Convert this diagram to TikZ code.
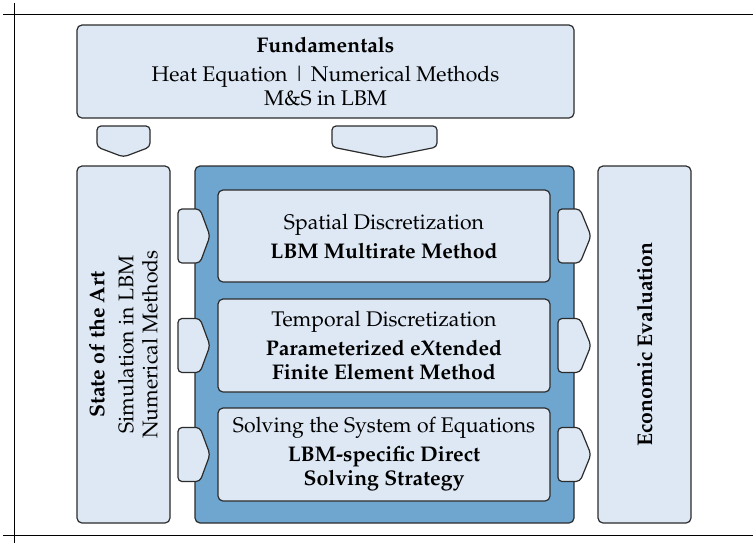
\documentclass[tikz,border=0pt]{standalone}
\usepackage[T1]{fontenc}
\usepackage{mathpazo}
\definecolor{boxlight}{HTML}{DDE8F4}
\definecolor{boxdark}{HTML}{6FA6CF}
\definecolor{boxline}{HTML}{2B2B2B}
\tikzset{
    lightbox/.style={draw=boxline, fill=boxlight, rounded corners=2.5pt, line width=0.6pt, inner sep=0pt, align=center},
    darkbox/.style={draw=boxline, fill=boxdark, rounded corners=2.5pt, line width=0.6pt, inner sep=0pt},
    chevron/.style={draw=boxline, fill=boxlight, rounded corners=2pt, line width=0.6pt},
    cropline/.style={draw=black, line width=0.5pt}
}
\begin{document}
\begin{tikzpicture}[x=0.5pt, y=-0.5pt, font=\fontsize{10.6}{12}\selectfont]
                \useasboundingbox (0,0) rectangle (753,543);
                \draw[cropline] (3,14) -- (753,14);
                \draw[cropline] (3,535) -- (753,535);
                \draw[cropline] (14,3) -- (14,543);
                \node[lightbox, minimum width=248.5pt, minimum height=46.5pt] (Fund) at (325.5,71.5) {\textbf{Fundamentals}\\[2.5pt] Heat Equation \textbar{} Numerical Methods\\ M\&S in LBM};
                \draw[chevron] (97,126) -- (150,126) -- (150,147) -- (123.5,157) -- (97,147) -- cycle;
                \draw[chevron] (332,126) -- (437,126) -- (437,147) -- (384.5,157.5) -- (332,147) -- cycle;
                \node[lightbox, minimum width=46.5pt, minimum height=178.5pt] (SotA) at (123.5,344.5) {};
                \node[rotate=90, align=center] (SotAtext) at (SotA.center) {\textbf{State of the Art}\\[2.5pt] Simulation in LBM\\ Numerical Methods};
                \node[darkbox, minimum width=189.5pt, minimum height=178.5pt] (Core) at (384.5,344.5) {};
                \node[lightbox, minimum width=46.5pt, minimum height=178.5pt] (Econ) at (644.5,344.5) {};
                \node[rotate=90, align=center] (Econtext) at (Econ.center) {\textbf{Economic Evaluation}};
                \node[lightbox, minimum width=166pt, minimum height=46pt] (Space) at (384,236) {Spatial Discretization\\[2.5pt] \textbf{LBM Multirate Method}};
                \node[lightbox, minimum width=166pt, minimum height=46.5pt] (Time) at (384,345.5) {Temporal Discretization\\[2.5pt] \textbf{Parameterized eXtended}\\ \textbf{Finite Element Method}};
                \node[lightbox, minimum width=166pt, minimum height=46.5pt] (Solve) at (384,454.5) {Solving the System of Equations\\[2.5pt] \textbf{LBM-specific Direct}\\ \textbf{Solving Strategy}};
                \foreach \y in {236,345.5,454.5} {
                    \draw[chevron] (178,\y-27) -- (200,\y-27) -- (210,\y) -- (200,\y+27) -- (178,\y+27) -- cycle;
                    \draw[chevron] (558,\y-27) -- (580,\y-27) -- (591,\y) -- (580,\y+27) -- (558,\y+27) -- cycle;
                }
\end{tikzpicture}
\end{document}
